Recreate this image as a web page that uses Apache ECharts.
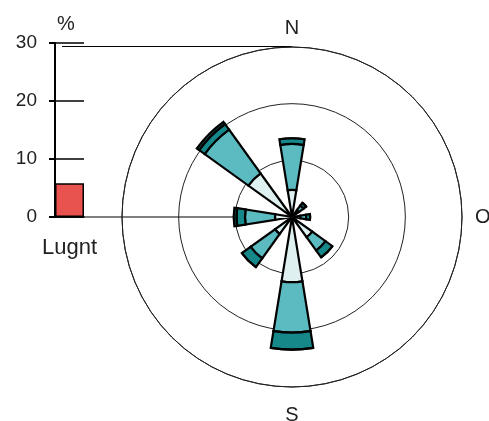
<!DOCTYPE html>
<html><head><meta charset="utf-8">
<script src="https://cdn.jsdelivr.net/npm/echarts@6/dist/echarts.min.js"></script>
<style>html,body{margin:0;padding:0;background:#fff}#c{width:489px;height:421px}</style>
</head><body><div id="c"></div>
<script>
const directions = ['N','NO','O','SO','S','SV','V','NV'];
const shownDirectionLabels = ['N','O','S'];
const light   = [4.8, 1.5, 1.5, 4.4, 11.5, 3.7, 3.0, 9.5];
const mid     = [8.1, 1.0, 1.0, 2.9, 8.9, 5.3, 5.3, 9.5];
const dark    = [1.0, 0.6, 0.7, 1.5, 3.0, 1.9, 1.5, 1.2];
const darkest = [0, 0, 0, 0, 0, 0, 0.5, 0.5];
const calmCategory = ['Lugnt'];
const calmValue = [5.8];
const percentMin = 0, percentMax = 30, percentStep = 10;

const font = '"Liberation Sans", Arial, sans-serif';
const chart = echarts.init(document.getElementById('c'), null, {renderer:'canvas'});
function seg(name, data, color){
  return {type:'bar', name, coordinateSystem:'polar', polarIndex:0, stack:'rose', data,
    barWidth:'41%', itemStyle:{color, borderColor:'#000', borderWidth:2.2}, z:3, silent:true};
}
const dirStyle = {fontSize:20, color:'#222', fontFamily:font};
const option = {
  animation:false,
  backgroundColor:'#fff',
  polar:{center:[292,217], radius:170},
  angleAxis:{type:'category', data:directions, startAngle:112.5, clockwise:true, boundaryGap:true,
    axisLine:{show:true, lineStyle:{color:'#222', width:1}},
    axisTick:{show:false}, splitLine:{show:false}, splitArea:{show:false},
    axisLabel:{margin:9, fontSize:20, color:'#222', fontFamily:font,
      formatter: v => !shownDirectionLabels.includes(v) ? '' :
        (v === 'S' ? '{s|S}' : (v === 'O' ? '{e|O}' : '{n|N}')),
      rich:{
        n:Object.assign({}, dirStyle),
        s:Object.assign({padding:[9,0,0,0]}, dirStyle),
        e:Object.assign({padding:[0,0,0,4]}, dirStyle)
      }}},
  radiusAxis:{type:'value', min:percentMin, max:percentMax, interval:percentStep,
    axisLine:{show:false}, axisTick:{show:false}, axisLabel:{show:false},
    splitLine:{show:true, lineStyle:{color:'#222', width:1}}},
  grid:{left:55, top:43, width:29, height:174},
  xAxis:{type:'category', data:calmCategory,
    axisLine:{show:true, lineStyle:{color:'#000', width:1.5}}, axisTick:{show:false},
    axisLabel:{margin:20, fontSize:22, color:'#222', fontFamily:font}},
  yAxis:{type:'value', min:percentMin, max:percentMax, interval:percentStep,
    name:'%', nameLocation:'end', nameGap:9,
    nameTextStyle:{align:'left', padding:[0,0,0,2], fontSize:20, color:'#222', fontFamily:font},
    axisLine:{show:true, lineStyle:{color:'#000', width:2}},
    axisTick:{show:true, length:6, lineStyle:{color:'#000', width:2}},
    axisLabel:{margin:18, fontSize:19, color:'#222', fontFamily:font},
    splitLine:{show:true, lineStyle:{color:'#000', width:1.5}}},
  graphic:[
    {type:'line', z:0, shape:{x1:62, y1:46.5, x2:292, y2:46.5}, style:{stroke:'#000', lineWidth:1.2}},
    {type:'line', z:0, shape:{x1:55, y1:217, x2:292, y2:217}, style:{stroke:'#000', lineWidth:1.2}}
  ],
  series:[
    {type:'bar', xAxisIndex:0, yAxisIndex:0, data:calmValue, barWidth:'100%',
      itemStyle:{color:'#e8524f', borderColor:'#000', borderWidth:1.5}, z:3},
    seg('light', light, '#dff0f0'),
    seg('mid', mid, '#5bbbc0'),
    seg('dark', dark, '#17888a'),
    seg('darkest', darkest, '#0b4a4b')
  ]
};
chart.setOption(option);
</script>
</body></html>
